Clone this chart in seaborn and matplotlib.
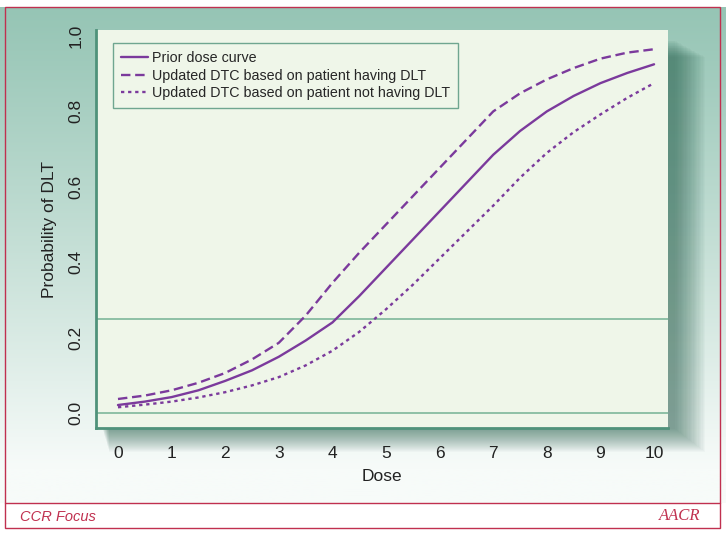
import numpy as np
import pandas as pd
import seaborn as sns
from matplotlib import pyplot as plt
from matplotlib.patches import Rectangle

# Dados
dose = [0, 0.5, 1, 1.5, 2, 2.5, 3, 3.5, 4, 4.5, 5, 5.5, 6, 6.5, 7, 7.5, 8, 8.5, 9, 9.5, 10]
prior = [0.021, 0.030, 0.042, 0.060, 0.085, 0.113, 0.149, 0.192, 0.240, 0.310, 0.385, 0.460,
         0.535, 0.610, 0.685, 0.748, 0.800, 0.841, 0.875, 0.902, 0.925]
com_dlt = [0.037, 0.046, 0.060, 0.080, 0.106, 0.142, 0.186, 0.258, 0.345, 0.425, 0.500, 0.575,
           0.650, 0.725, 0.800, 0.848, 0.885, 0.915, 0.940, 0.956, 0.965]
sem_dlt = [0.015, 0.022, 0.030, 0.041, 0.055, 0.073, 0.095, 0.126, 0.165, 0.215, 0.275, 0.340,
           0.410, 0.480, 0.550, 0.624, 0.690, 0.745, 0.792, 0.836, 0.875]
nomes = ['Prior dose curve',
         'Updated DTC based on patient having DLT',
         'Updated DTC based on patient not having DLT']
limiar = 0.25

dados = pd.DataFrame({
    'Dose': dose * 3,
    'Prob': prior + com_dlt + sem_dlt,
    'Curva': [nomes[0]] * len(dose) + [nomes[1]] * len(dose) + [nomes[2]] * len(dose),
})

sns.set_style('white')
plt.rcParams['font.family'] = ['Liberation Sans', 'DejaVu Sans']

roxo = '#7b3a9c'
verde = '#86bca0'
verde_escuro = '#4f927a'
painel = '#eff6e9'
vermelho = '#c0304f'

fig = plt.figure(figsize=(7.26, 5.35), dpi=100)

# Fundo com gradiente
fundo = fig.add_axes([0, 0, 1, 1], zorder=-10)
grad = np.linspace(0, 1, 256).reshape(-1, 1)
topo = np.array([150, 197, 181]) / 255
base = np.array([247, 251, 249]) / 255
t = np.clip(grad / 0.93, 0, 1) ** 1.1
img = topo * (1 - t)[..., None] + base * t[..., None]
img = img.reshape(256, 1, 3)
fundo.imshow(img, aspect='auto', extent=[0, 1, 1 - 503 / 535, 1 - 7 / 535], origin='upper')
fundo.set_xlim(0, 1)
fundo.set_ylim(0, 1)
fundo.axis('off')
fundo.add_patch(Rectangle((0, 0), 1, 1 - 503 / 535, color='white', zorder=-1))

# Sombra do painel (suave)
x0, x1 = 96 / 726, 668 / 726
y0, y1 = 1 - 428 / 535, 1 - 30 / 535
for k in range(24):
    d = (k + 1) * 1.0
    fundo.add_patch(Rectangle((x0 + (6 + d * 0.3) / 726, y0 - d / 535), (x1 - x0) + d / 726,
                              (y1 - y0) - (10 - d * 0.3) / 535,
                              facecolor='#1a5642', alpha=0.028, lw=0, zorder=1))

# Bordas vermelhas
fundo.add_patch(Rectangle((5 / 726, 1 - 528 / 535), 715 / 726, 521 / 535, fill=False,
                          edgecolor=vermelho, lw=1.0, zorder=5))
fundo.plot([5 / 726, 720 / 726], [1 - 503 / 535] * 2, color=vermelho, lw=1.0, zorder=5)
fundo.text(20 / 726, 1 - 517 / 535, 'CCR Focus', color=vermelho, fontsize=10.5,
           style='italic', va='center', ha='left')
fundo.text(700 / 726, 1 - 516 / 535, 'AACR', color=vermelho, fontsize=12,
           family='Liberation Serif', style='italic', va='center', ha='right')

ax = fig.add_axes([x0, y0, x1 - x0, y1 - y0])
ax.set_facecolor(painel)

sns.lineplot(data=dados, x='Dose', y='Prob', style='Curva', style_order=nomes,
             dashes={nomes[0]: '', nomes[1]: (4, 2), nomes[2]: (1.4, 1.6)},
             color=roxo, lw=1.7, ax=ax, sort=False)

ax.axhline(limiar, color=verde, lw=1.3, zorder=1)
ax.axhline(0, color=verde, lw=1.3, zorder=1)

ax.set_xlim(-0.41, 10.26)
ax.set_ylim(-0.04, 1.016)
ax.set_xticks(range(0, 11))
ax.set_yticks([0.0, 0.2, 0.4, 0.6, 0.8, 1.0])
ax.set_yticklabels(['0.0', '0.2', '0.4', '0.6', '0.8', '1.0'], rotation=90, va='center')

for lado in ['top', 'right']:
    ax.spines[lado].set_visible(False)
for lado in ['left', 'bottom']:
    ax.spines[lado].set_color(verde_escuro)
    ax.spines[lado].set_linewidth(2)

ax.tick_params(axis='x', length=7, width=0.8, color='#b9cfc6', pad=6, labelsize=12.5, labelcolor='#222222')
ax.tick_params(axis='y', length=6, width=0.8, color='#6aa88f', pad=3, labelsize=12.5, labelcolor='#222222')

ax.set_xlabel('Dose', fontsize=12.5, labelpad=6, color='#222222')
ax.set_ylabel('Probability of DLT', fontsize=12.5, labelpad=8, color='#222222')

leg = ax.legend(loc='upper left', bbox_to_anchor=(0.03, 0.967), fontsize=10.3, frameon=True,
                fancybox=False, handlelength=1.9, handletextpad=0.25, borderpad=0.55,
                labelspacing=0.25, borderaxespad=0)
leg.get_frame().set_edgecolor(verde_escuro)
leg.get_frame().set_facecolor(painel)
leg.get_frame().set_linewidth(1.0)
for h in leg.get_lines():
    h.set_color(roxo)
    h.set_linewidth(1.7)

fig.savefig('out.png', dpi=100)
